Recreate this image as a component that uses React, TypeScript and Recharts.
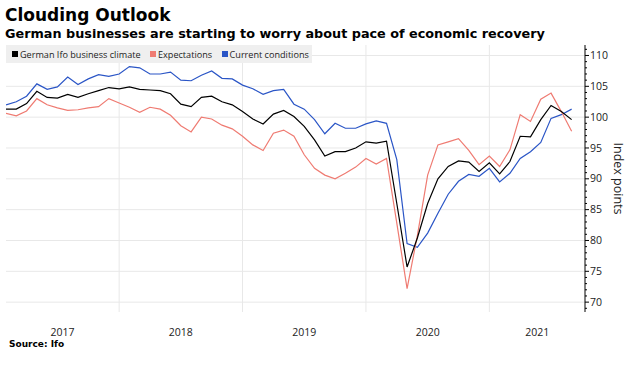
import { CartesianGrid, Legend, Line, LineChart, ReferenceLine, XAxis, YAxis } from "recharts";

// monthly readings, Jan 2017 .. Aug 2021
const climate = [
  101.3, 101.3, 102.2, 104.2, 103.2, 103.1, 103.7, 103.2, 103.8, 104.3, 104.8, 104.6,
  104.9, 104.5, 104.4, 104.3, 103.8, 102.1, 101.7, 103.2, 103.4, 102.5, 102.0, 100.9,
  99.7, 98.9, 100.5, 101.1, 100.1, 98.5, 96.3, 93.7, 94.4, 94.4, 95.0, 96.0,
  95.8, 96.1, 86.0, 75.7, 80.4, 86.0, 90.0, 92.0, 92.9, 92.7, 91.2, 92.6,
  90.8, 92.8, 96.9, 96.8, 99.6, 101.9, 100.9, 99.6,
];
const expectations = [
  100.6, 100.2, 101.0, 103.0, 102.0, 101.5, 101.1, 101.2, 101.5, 101.7, 103.0, 102.3,
  101.6, 100.8, 101.6, 101.3, 100.3, 98.6, 97.6, 100.0, 99.7, 98.7, 98.1, 96.9,
  95.5, 94.6, 97.4, 97.9, 96.9, 93.9, 91.7, 90.6, 90.0, 90.9, 91.9, 93.3,
  92.4, 93.3, 82.8, 72.2, 80.8, 90.6, 95.5, 96.0, 96.5, 94.6, 92.3, 93.7,
  92.0, 94.7, 100.4, 99.3, 102.9, 103.9, 100.9, 97.7,
];
const current = [
  102.0, 102.5, 103.4, 105.4, 104.5, 104.9, 106.5, 105.3, 106.2, 106.9, 106.6, 107.0,
  108.2, 108.0, 107.0, 107.0, 107.3, 106.0, 105.9, 106.8, 107.5, 106.3, 106.2, 105.2,
  104.6, 103.7, 104.3, 104.5, 102.1, 101.3, 99.6, 97.3, 99.0, 98.2, 98.2, 98.9,
  99.4, 99.0, 93.1, 79.5, 78.9, 81.2, 84.4, 87.5, 89.6, 90.7, 90.4, 91.7,
  89.5, 90.9, 93.3, 94.4, 95.9, 99.8, 100.4, 101.3,
];
const years = ["2017", "2018", "2019", "2020", "2021"];

const seriesInfo = [
  { key: "climate", name: "German Ifo business climate", color: "#000000" },
  { key: "expectations", name: "Expectations", color: "#ef7b72" },
  { key: "current", name: "Current conditions", color: "#2a55c6" },
];

const data = climate.map((v, i) => ({
  t: i,
  climate: v,
  expectations: expectations[i],
  current: current[i],
}));

const X_MAX = 56.3;
// month-end points; year boundaries fall on each December
const yearEnds = years.slice(0, -1).map((_, i) => 11 + i * 12);
const yearStarts = [0, ...yearEnds];
const yearMids = years.map((_, i) => (yearStarts[i] + (yearEnds[i] ?? X_MAX)) / 2);

const yTicks: number[] = [];
for (let v = 69; v <= 111; v++) yTicks.push(v);
const yGrid = [70, 75, 80, 85, 90, 95, 100, 105, 110];

const axisFont = "'Open Sans', sans-serif";

function XTick({ x, y, payload }: any) {
  const idx = yearMids.indexOf(payload.value);
  return (
    <text x={x} y={y + 23.5} textAnchor="middle" fontSize={10.5} fill="#222" fontFamily={axisFont}>
      {years[idx]}
    </text>
  );
}

function YTick({ x, y, payload }: any) {
  const v = payload.value;
  const major = v % 5 === 0;
  return (
    <g>
      <line x1={x} x2={x + (major ? 4 : 2)} y1={y} y2={y} stroke="#000" strokeWidth={1} />
      {major && (
        <text x={x + 5} y={y} dy="0.35em" fontSize={10.5} fill="#222" fontFamily={axisFont}>
          {v}
        </text>
      )}
    </g>
  );
}

function AxisTitle({ viewBox }: any) {
  const cx = viewBox.x + 33;
  const cy = viewBox.y + viewBox.height / 2;
  return (
    <text
      x={cx}
      y={cy}
      transform={`rotate(90, ${cx}, ${cy})`}
      textAnchor="middle"
      dominantBaseline="central"
      fontSize={12.5}
      fill="#222"
      fontFamily={axisFont}
    >
      Index points
    </text>
  );
}

function LegendBox() {
  return (
    <div
      style={{
        display: "flex",
        alignItems: "center",
        background: "#efefef",
        height: 18,
        width: 306,
        boxSizing: "border-box",
        paddingLeft: 6,
        fontFamily: axisFont,
        fontSize: 9.1,
        color: "#222",
        whiteSpace: "nowrap",
      }}
    >
      {seriesInfo.map((s) => (
        <div key={s.key} style={{ display: "flex", alignItems: "center", marginRight: 9.5 }}>
          <span style={{ width: 6, height: 6, background: s.color, marginRight: 2 }} />
          <span>{s.name}</span>
        </div>
      ))}
    </div>
  );
}

export default function App() {
  return (
    <div
      style={{
        position: "absolute",
        left: 0,
        top: 0,
        width: 631,
        height: 366,
        background: "#fff",
      }}
    >
      <div
        style={{
          position: "absolute",
          left: 5,
          top: 6.6,
          fontFamily: "'DejaVu Sans', sans-serif",
          fontWeight: "bold",
          fontSize: 17,
          lineHeight: "17px",
          color: "#000",
          whiteSpace: "nowrap",
        }}
      >
        Clouding Outlook
      </div>
      <div
        style={{
          position: "absolute",
          left: 5,
          top: 27,
          fontFamily: "'DejaVu Sans', sans-serif",
          fontWeight: "bold",
          fontSize: 12.8,
          lineHeight: "13px",
          color: "#000",
          whiteSpace: "nowrap",
        }}
      >
        German businesses are starting to worry about pace of economic recovery
      </div>
      <LineChart
        width={631}
        height={366}
        data={data}
        margin={{ top: 45, right: 0, bottom: 0, left: 6 }}
      >
        <CartesianGrid stroke="none" />
        {yGrid.map((v) => (
          <ReferenceLine key={`h${v}`} y={v} stroke="#e8e8e8" strokeWidth={1} />
        ))}
        {yearEnds.map((t) => (
          <ReferenceLine key={`v${t}`} x={t} stroke="#e8e8e8" strokeWidth={1} />
        ))}
        <XAxis
          type="number"
          dataKey="t"
          domain={[0, X_MAX]}
          allowDataOverflow
          ticks={yearMids}
          interval={0}
          tick={<XTick />}
          tickSize={0}
          tickMargin={0}
          axisLine={false}
          tickLine={false}
          height={54}
        />
        <YAxis
          orientation="right"
          domain={[68.4, 111.7]}
          allowDataOverflow
          ticks={yTicks}
          interval={0}
          tick={<YTick />}
          tickSize={0}
          tickMargin={0}
          tickLine={false}
          axisLine={{ stroke: "#000", strokeWidth: 1 }}
          width={46}
          label={<AxisTitle />}
        />
        <Legend
          layout="horizontal"
          verticalAlign="middle"
          align="center"
          wrapperStyle={{ top: 45, left: 6, width: "auto" }}
          content={() => <LegendBox />}
        />
        {[...seriesInfo].reverse().map((s) => (
          <Line
            key={s.key}
            type="linear"
            dataKey={s.key}
            name={s.name}
            stroke={s.color}
            strokeWidth={1.2}
            dot={false}
            activeDot={false}
            isAnimationActive={false}
          />
        ))}
      </LineChart>
      <div
        style={{
          position: "absolute",
          left: 9,
          top: 339.7,
          fontFamily: "'DejaVu Sans', sans-serif",
          fontWeight: "bold",
          fontSize: 9,
          lineHeight: "9px",
          color: "#000",
          whiteSpace: "nowrap",
        }}
      >
        Source: Ifo
      </div>
    </div>
  );
}
